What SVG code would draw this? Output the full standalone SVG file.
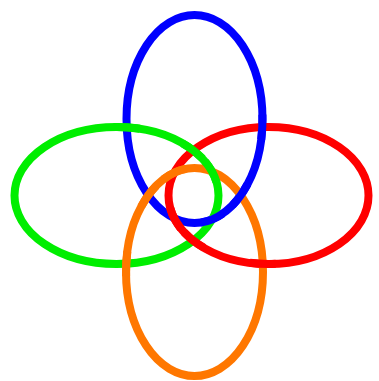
<svg xmlns="http://www.w3.org/2000/svg" width="379" height="381" viewBox="0 0 379 381">
<style>
.ring{stroke-width:8;stroke-linecap:butt;fill-opacity:0}
.b{stroke:#0000ff}
.g{stroke:#00ee00}
.r{stroke:#ff0000}
.o{stroke:#ff7700}
</style>
<g id="blue"><path class="ring b" fill="none" d="M126.5,119 A68,104 0 1 1 262.5,119 A68,104 0 1 1 126.5,119 Z"/></g>
<g id="green"><path class="ring g" fill="none" d="M14.5,195.5 A102,68.5 0 1 1 218.5,195.5 A102,68.5 0 1 1 14.5,195.5 Z"/></g>
<g id="red"><path class="ring r" fill="none" d="M168.5,195.5 A100,68.5 0 1 1 368.5,195.5 A100,68.5 0 1 1 168.5,195.5 Z"/></g>
<g id="orange"><path class="ring o" fill="none" d="M126,272 A68.5,104 0 1 1 263,272 A68.5,104 0 1 1 126,272 Z"/></g>
<g id="crossings" fill="none">
<path class="ring g" d="M113.5,127.0 A102,68.5 0 0 1 139.8,128.8"/>
<path class="ring b" d="M262.4,114.6 A68,104 0 0 1 261.2,139.5"/>
<path class="ring g" d="M182.4,143.2 A102,68.5 0 0 1 202.5,158.6"/>
<path class="ring o" d="M141.2,206.6 A68.5,104 0 0 1 156.4,185.6"/>
<path class="ring o" d="M163.5,179.2 A68.5,104 0 0 1 185.7,168.9"/>
<path class="ring b" d="M247.5,184.1 A68,104 0 0 1 232.6,205.2"/>
<path class="ring g" d="M205.1,161.6 A102,68.5 0 0 1 216.5,182.0"/>
<path class="ring b" d="M223.0,213.5 A68,104 0 0 1 200.7,222.6"/>
<path class="ring r" d="M204.0,247.8 A100,68.5 0 0 1 184.2,232.3"/>
<path class="ring r" d="M180.8,228.4 A100,68.5 0 0 1 170.2,207.9"/>
<path class="ring o" d="M126.1,276.2 A68.5,104 0 0 1 127.4,251.3"/>
<path class="ring r" d="M275.7,263.8 A100,68.5 0 0 1 249.8,262.8"/>
</g>
</svg>
